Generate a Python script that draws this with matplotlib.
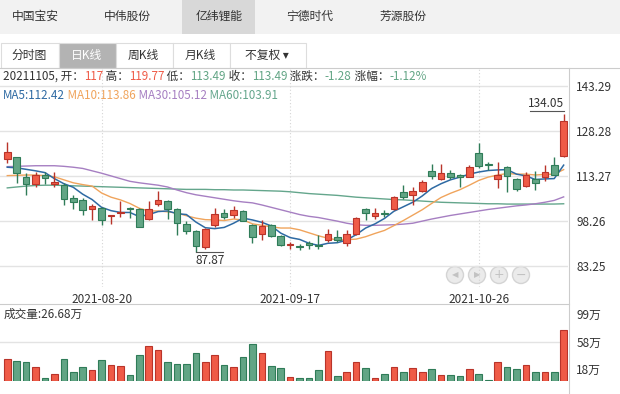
import numpy as np
import pandas as pd
import matplotlib
matplotlib.use('Agg')
import matplotlib.pyplot as plt
from matplotlib.patches import Rectangle, Circle

plt.rcParams['font.family'] = ['Noto Sans CJK SC', 'DejaVu Sans']

# ---- data ----
opens = [119.05, 119.5, 113.0, 110.6, 113.6, 110.5, 110.3, 106.0, 105.2, 102.4,
         102.5, 99.8, 100.9, 102.7, 102.3, 98.8, 104.0, 105.0, 102.1, 97.1,
         94.8, 89.7, 96.8, 101.0, 100.1, 101.6, 96.8, 93.8, 96.8, 93.1,
         90.3, 89.7, 91.0, 90.1, 91.9, 93.0, 90.8, 93.9, 102.3, 99.9,
         101.0, 102.4, 108.0, 107.0, 108.3, 114.9, 112.3, 114.4, 113.5, 113.0,
         121.0, 117.4, 112.2, 116.4, 112.2, 110.0, 112.3, 112.8, 117.0, 119.9]
highs = [124.7, 119.6, 114.4, 114.7, 114.5, 114.7, 110.8, 106.9, 105.8, 103.9,
         103.0, 100.2, 104.8, 103.0, 102.7, 104.9, 108.2, 105.3, 102.6, 98.2,
         95.2, 96.0, 102.5, 102.3, 103.4, 101.9, 97.2, 98.6, 97.2, 93.6,
         91.2, 90.5, 91.7, 93.5, 95.5, 95.2, 95.2, 99.5, 102.7, 102.6,
         101.9, 106.6, 110.3, 109.5, 111.9, 117.2, 117.2, 115.3, 113.9, 117.0,
         124.2, 117.8, 118.0, 116.7, 112.5, 114.7, 114.9, 117.0, 119.77, 134.05]
lows = [117.5, 110.8, 106.8, 109.5, 110.6, 109.5, 103.5, 102.3, 100.1, 98.6,
        96.9, 97.1, 99.5, 99.1, 96.2, 98.6, 103.3, 98.8, 93.5, 93.8,
        87.87, 89.0, 96.2, 99.0, 99.1, 98.2, 90.8, 91.9, 92.8, 90.0,
        88.9, 88.6, 88.8, 89.0, 91.3, 91.3, 89.9, 93.6, 98.6, 99.0,
        99.5, 101.9, 105.6, 103.6, 107.9, 112.2, 111.9, 112.2, 109.5, 112.8,
        116.0, 115.3, 109.2, 108.0, 108.4, 109.7, 108.6, 111.6, 113.49, 119.5]
closes = [121.3, 114.2, 110.5, 113.5, 112.5, 111.3, 105.6, 104.5, 102.0, 103.4,
          98.6, 100.2, 101.2, 102.1, 96.3, 102.1, 105.2, 102.1, 97.6, 94.9,
          89.9, 95.5, 100.6, 99.5, 101.9, 98.3, 92.8, 96.6, 93.2, 90.3,
          90.7, 89.5, 90.1, 89.8, 93.9, 91.9, 93.9, 99.1, 100.8, 101.0,
          100.6, 106.2, 106.4, 108.4, 111.2, 113.3, 114.2, 112.8, 112.8, 116.4,
          116.6, 116.9, 113.6, 113.4, 108.8, 113.6, 111.0, 114.77, 113.49, 131.7]
volumes = [32, 30, 28.5, 20, 4.4, 11, 32, 14, 20, 16,
           31, 23, 22, 9, 38, 52, 45, 28.5, 25.5, 24.6,
           42, 28.5, 39, 23, 20, 35, 54, 41, 22, 19,
           5.4, 4, 4, 16, 44, 7, 14, 28.5, 19, 4.4,
           11, 20, 14, 19, 13, 17, 8.4, 8.4, 7, 17,
           10, 1, 28.5, 20, 17, 23, 13, 13, 13, 75]
ma5 = [116.2, 116.0, 115.5, 115.0, 114.4, 112.4, 110.7, 109.5, 107.2, 105.4,
       102.8, 101.7, 101.1, 101.1, 99.7, 100.4, 101.4, 101.6, 100.7, 100.4,
       97.9, 96.0, 95.7, 96.1, 97.5, 99.2, 98.6, 97.8, 96.6, 94.2,
       92.7, 92.1, 90.8, 90.1, 90.8, 91.0, 91.9, 93.7, 95.9, 97.3,
       99.1, 101.5, 103.0, 104.5, 106.6, 109.1, 110.7, 112.0, 112.9, 113.9,
       114.6, 115.1, 115.3, 115.4, 113.9, 113.3, 112.1, 112.3, 112.4, 116.9]
ma10 = [113.4, 113.5, 113.6, 113.6, 113.4, 113.0, 112.0, 111.0, 110.4, 109.9,
        107.6, 106.2, 105.3, 104.1, 102.5, 101.6, 101.6, 101.3, 100.9, 100.0,
        99.2, 98.7, 98.6, 98.4, 98.9, 98.6, 97.3, 96.8, 96.3, 95.9,
        95.9, 95.3, 94.3, 93.3, 92.5, 91.9, 92.0, 92.2, 93.0, 94.1,
        95.1, 96.7, 98.4, 100.2, 102.0, 104.1, 106.1, 107.5, 108.7, 110.2,
        111.8, 112.9, 113.6, 114.1, 113.9, 113.9, 113.6, 113.8, 113.86, 115.4]
ma30 = [116.4, 116.5, 116.6, 116.7, 116.7, 116.7, 116.5, 116.2, 115.8, 115.0,
        114.2, 113.3, 112.4, 111.5, 111.0, 110.6, 110.2, 109.6, 108.6, 107.7,
        107.0, 106.5, 106.0, 105.5, 105.0, 104.6, 104.3, 103.6, 102.8, 102.0,
        101.2, 100.4, 99.8, 99.4, 98.8, 98.2, 97.5, 97.0, 96.8, 96.8,
        96.9, 97.0, 97.2, 97.5, 98.2, 98.9, 99.5, 100.1, 100.6, 101.1,
        101.6, 102.1, 102.5, 102.9, 103.3, 103.6, 104.0, 104.5, 105.12, 106.3]
ma60 = [109.3, 109.6, 109.9, 110.1, 110.2, 110.2, 110.1, 110.0, 109.9, 109.8,
        109.7, 109.6, 109.5, 109.4, 109.3, 109.2, 109.1, 109.0, 108.9, 108.8,
        108.8, 108.8, 108.7, 108.7, 108.6, 108.6, 108.5, 108.4, 108.3, 108.2,
        108.0, 107.7, 107.4, 107.2, 107.0, 106.8, 106.5, 106.2, 106.0, 105.8,
        105.6, 105.4, 105.3, 105.1, 104.9, 104.7, 104.5, 104.4, 104.3, 104.2,
        104.1, 104.0, 104.0, 103.9, 103.9, 103.9, 103.9, 103.9, 103.91, 104.0]

holidays = ['2021-09-20', '2021-09-21', '2021-10-01', '2021-10-04',
            '2021-10-05', '2021-10-06', '2021-10-07']
dates = pd.bdate_range('2021-08-06', '2021-11-08')
dates = dates[~dates.isin(pd.to_datetime(holidays))]
tick_dates = ['2021-08-20', '2021-09-17', '2021-10-26']
price_ticks = [83.25, 98.26, 113.27, 128.28, 143.29]
vol_ticks = [18, 58, 99]
stocks = ['中国宝安', '中伟股份', '亿纬锂能', '宁德时代', '芳源股份']
periods = ['分时图', '日K线', '周K线', '月K线', '不复权']

RED, RED_E = '#ef5b47', '#b9342a'
GREEN, GREEN_E = '#62a585', '#2f7c58'
C_MA = ['#2e6aa3', '#f0a45c', '#a67fc2', '#64a68c']
GRID = '#e3e3e3'
TXT = '#333333'

W, H = 620, 394
fig = plt.figure(figsize=(W / 100, H / 100), dpi=100)

# background / UI layer in pixel coordinates
bg = fig.add_axes([0, 0, 1, 1], zorder=-1)
bg.set_xlim(0, W)
bg.set_ylim(H, 0)
bg.axis('off')


def fy(y):
    return 1 - y / H


# top tab bar
bg.add_patch(Rectangle((0, 0), W, 34, color='#f2f2f2', lw=0))
bg.add_patch(Rectangle((182, 0), 73, 34, color='#d8d8d8', lw=0))
for name, cx in zip(stocks, [35, 127, 219, 310, 403]):
    bg.text(cx, 16, name, ha='center', va='center', fontsize=8.5, color=TXT)

# period buttons
btn = [(0, 58), (58, 57), (115, 57), (172, 57), (229, 76)]
for (bx, bw), name in zip(btn, periods):
    sel = name == '日K线'
    bg.add_patch(Rectangle((bx + 0.5, 42.5), bw, 25, facecolor='#b3b3b3' if sel else 'white',
                           edgecolor='#dddddd', lw=0.8))
    label = name + ' ▾' if name == '不复权' else name
    bg.text(bx + bw / 2, 55, label, ha='center', va='center', fontsize=8.5,
            color='white' if sel else TXT)

# frame lines
bg.plot([0, W], [67.5, 67.5], color='#cccccc', lw=0.8)
bg.plot([568.5, 568.5], [67.5, H], color='#cccccc', lw=0.8)
bg.plot([0, 568.5], [303.5, 303.5], color='#cccccc', lw=0.8)

# ---- price panel ----
x = np.arange(len(closes))
ax = fig.add_axes([0, fy(287), 568 / W, (287 - 68) / H])
ax.set_facecolor('none')
ax.set_xlim(-0.77, 59.46)
ax.set_ylim(76.21, 149.33)
for s in ax.spines.values():
    s.set_visible(False)

for p in price_ticks:
    ax.axhline(p, color=GRID, lw=1, zorder=0)
tick_idx = dates.get_indexer(pd.to_datetime(tick_dates))
for t in tick_idx:
    ax.axvline(t, color='#d5d5d5', lw=0.8, ls=(0, (1, 2)), zorder=0)

ax.plot(x, ma60, color=C_MA[3], lw=1, zorder=1)
ax.plot(x, ma30, color=C_MA[2], lw=1, zorder=1)
ax.plot(x, ma10, color=C_MA[1], lw=1, zorder=1)
ax.plot(x, ma5, color=C_MA[0], lw=1.1, zorder=1)

o = np.array(opens)
c = np.array(closes)
up = c >= o
fc = np.where(up, RED, GREEN)
ec = np.where(up, RED_E, GREEN_E)
ax.vlines(x, lows, highs, colors=ec, lw=1, zorder=2)
body = np.maximum(np.abs(c - o), 0.25)
ax.bar(x, body, bottom=np.minimum(o, c), width=0.7, color=fc, edgecolor=ec, lw=0.8, zorder=3)

ax.set_xticks(tick_idx)
ax.set_xticklabels(tick_dates, fontsize=8.5, color=TXT)
ax.tick_params(axis='x', length=0, pad=4)
ax.yaxis.tick_right()
ax.set_yticks(price_ticks)
ax.set_yticklabels([f'{p:.2f}' for p in price_ticks], fontsize=8.5, color=TXT)
ax.tick_params(axis='y', length=0, pad=6)

# max / min markers
imax = int(np.argmax(highs))
imin = int(np.argmin(lows))
ax.plot([imax - 3.6, imax], [highs[imax] + 0.9] * 2, color='#555555', lw=0.8)
ax.text(imax, highs[imax] + 1.3, f'{highs[imax]:.2f}', ha='right', va='bottom', fontsize=8.5, color=TXT)
ax.plot([imin, imin + 2.9], [lows[imin]] * 2, color='#555555', lw=0.8)
ax.text(imin, lows[imin] - 0.6, f'{lows[imin]:.2f}', ha='left', va='top', fontsize=8.5, color=TXT)

# navigation buttons
for cx, sym in zip([455, 477, 499, 521], ['◀', '▶', '+', '−']):
    bg.add_patch(Circle((cx, 275), 8.5, facecolor='#ebebeb', edgecolor='#d4d4d4', lw=1, zorder=5))
    bg.text(cx, 275, sym, ha='center', va='center', fontsize=6 if sym in '◀▶' else 9,
            color='#c2c2c2', zorder=6, family='DejaVu Sans')

# ---- volume panel ----
av = fig.add_axes([0, fy(381), 568 / W, (381 - 303) / H])
av.set_facecolor('none')
av.set_xlim(-0.77, 59.46)
av.set_ylim(0, 115)
for s in av.spines.values():
    s.set_visible(False)
av.axhline(58, color=GRID, lw=1, zorder=0)
av.bar(x, volumes, width=0.7, color=fc, edgecolor=ec, lw=0.8, zorder=2)
av.set_xticks([])
av.yaxis.tick_right()
av.set_yticks(vol_ticks)
av.set_yticklabels([f'{v}万' for v in vol_ticks], fontsize=8.5, color=TXT)
av.tick_params(axis='y', length=0, pad=6)
bg.text(4, 314, f'成交量:{26.68}万', ha='left', va='center', fontsize=8.4, color=TXT)

# ---- header lines with coloured values ----
fig.canvas.draw()
rend = fig.canvas.get_renderer()


def rich(x0, y0, parts, size=8.4):
    for s, col in parts:
        t = bg.text(x0, y0, s, color=col, fontsize=size, ha='left', va='center')
        x0 += t.get_window_extent(renderer=rend).width


i = len(closes) - 2
chg = closes[i] - closes[i - 1]
pct = chg / closes[i - 1] * 100
vr = lambda v, ref: RED if v >= ref else GREEN
rich(3, 76, [(dates[i].strftime('%Y%m%d') + ', 开：', TXT), (f'{opens[i]:g}', vr(opens[i], closes[i - 1])),
             (' 高：', TXT), (f'{highs[i]:.2f}', vr(highs[i], closes[i - 1])),
             (' 低：', TXT), (f'{lows[i]:.2f}', vr(lows[i], closes[i - 1])),
             (' 收：', TXT), (f'{closes[i]:.2f}', vr(closes[i], closes[i - 1])),
             (' 涨跌：', TXT), (f'{chg:.2f}', vr(chg, 0)),
             (' 涨幅：', TXT), (f'{pct:.2f}%', vr(chg, 0))])
rich(3, 95, [(f'MA5:{112.42}', C_MA[0]), (f' MA10:{113.86}', C_MA[1]),
             (f' MA30:{105.12}', C_MA[2]), (f' MA60:{103.91}', C_MA[3])])

fig.savefig('out.png', dpi=100)
